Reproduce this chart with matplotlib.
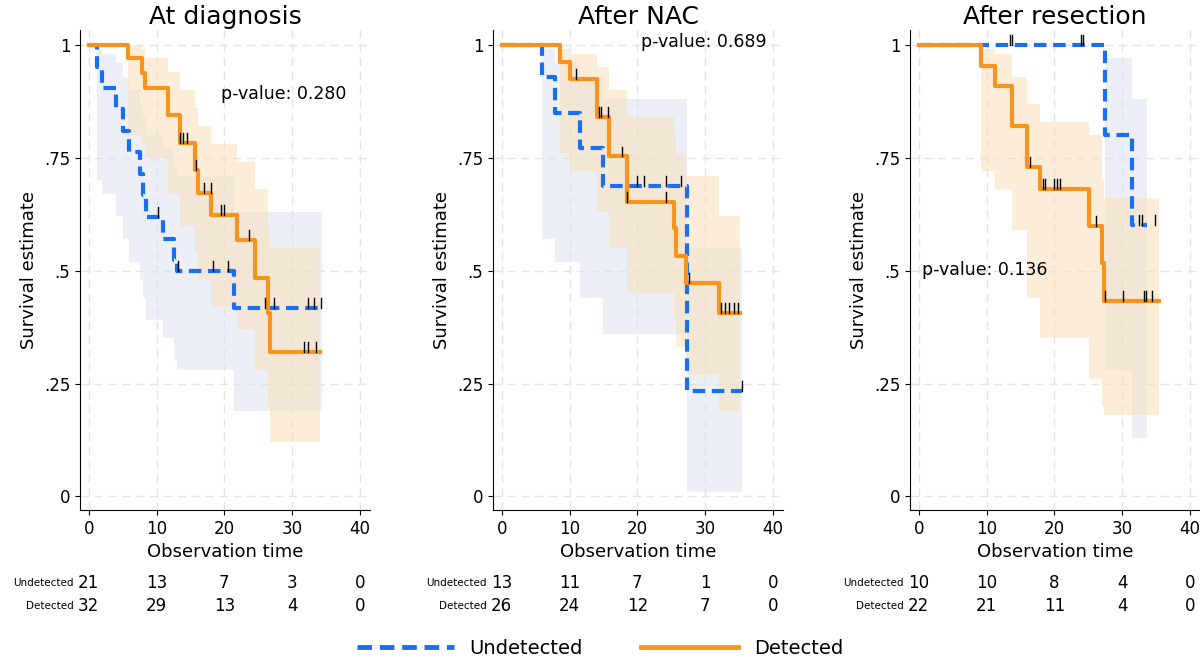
import numpy as np
import matplotlib.pyplot as plt

BLUE = '#1a6ff0'
ORANGE = '#f7941d'

# ---- At diagnosis
d_u_t = [0, 1.2, 2, 4, 5, 6, 7.5, 8, 8.5, 11, 12.5, 13, 21.5]
d_u_s = [1, .95, .905, .857, .81, .762, .714, .667, .619, .571, .524, .5, .417]
d_u_lo = [1, .70, .67, .62, .57, .52, .48, .44, .39, .35, .30, .28, .19]
d_u_hi = [1, .99, .98, .96, .93, .90, .87, .84, .80, .77, .73, .71, .63]
d_u_end = 34.4
d_u_cens = [10.2, 13.1, 18.3, 20.5, 26.0, 27.4, 32.3, 33.3, 34.3]

d_d_t = [0, 5.8, 7.8, 8.3, 11.7, 13.4, 15.6, 16.1, 18.1, 21.8, 24.5, 26.5, 26.8]
d_d_s = [1, .971, .937, .904, .845, .783, .723, .672, .624, .569, .484, .407, .321]
d_d_lo = [1, .80, .78, .75, .67, .60, .54, .48, .42, .37, .28, .20, .12]
d_d_hi = [1, 1, .99, .97, .94, .90, .86, .82, .78, .74, .68, .60, .55]
d_d_end = 34.1
d_d_cens = [13.4, 13.9, 14.5, 15.8, 17.0, 18.0, 19.5, 20.0, 23.7, 31.8, 32.3, 33.6]

# ---- After NAC
n_u_t = [0, 5.9, 7.9, 11.6, 15.0, 27.4]
n_u_s = [1, .93, .849, .772, .687, .233]
n_u_lo = [1, .57, .52, .44, .36, .01]
n_u_hi = [1, .99, .96, .93, .88, .55]
n_u_end = 35.4
n_u_cens = [20.0, 21.0, 24.2, 26.4, 35.4]

n_d_t = [0, 8.6, 10.1, 14.1, 15.8, 18.5, 25.4, 25.7, 27.2, 32.1]
n_d_s = [1, .963, .925, .841, .753, .653, .595, .532, .473, .407]
n_d_lo = [1, .76, .72, .63, .55, .45, .40, .33, .27, .19]
n_d_hi = [1, .99, .98, .95, .90, .84, .80, .76, .71, .62]
n_d_end = 35.1
n_d_cens = [10.9, 14.3, 14.6, 15.6, 17.8, 18.5, 24.3, 27.7, 32.3, 33.0, 33.6, 34.2, 34.8]

# ---- After resection
r_u_t = [0, 27.5, 31.5]
r_u_s = [1, .80, .601]
r_u_lo = [1, .28, .13]
r_u_hi = [1, .97, .88]
r_u_end = 33.7
r_u_cens = [13.5, 13.8, 24.0, 24.2, 32.5, 33.0, 34.8]

r_d_t = [0, 9.2, 11.2, 13.7, 15.9, 17.9, 25.1, 27.0, 27.3]
r_d_s = [1, .954, .909, .82, .73, .68, .60, .516, .432]
r_d_lo = [1, .72, .68, .59, .44, .35, .26, .20, .18]
r_d_hi = [1, .99, .98, .93, .87, .83, .80, .70, .66]
r_d_end = 35.5
r_d_cens = [16.4, 18.3, 18.6, 19.9, 20.4, 20.8, 26.1, 27.5, 30.1, 33.2, 33.5, 34.4]

titles = ['At diagnosis', 'After NAC', 'After resection']
pvals = ['p-value: 0.280', 'p-value: 0.689', 'p-value: 0.136']
pval_pos = [(19.5, .88), (20.5, .995), (0.5, .49)]
risk_times = [0, 10, 20, 30, 40]
risk_undet = [[21, 13, 7, 3, 0], [13, 11, 7, 1, 0], [10, 10, 8, 4, 0]]
risk_det = [[32, 29, 13, 4, 0], [26, 24, 12, 7, 0], [22, 21, 11, 4, 0]]

panels = [
    [(d_u_t, d_u_s, d_u_lo, d_u_hi, d_u_end, d_u_cens), (d_d_t, d_d_s, d_d_lo, d_d_hi, d_d_end, d_d_cens)],
    [(n_u_t, n_u_s, n_u_lo, n_u_hi, n_u_end, n_u_cens), (n_d_t, n_d_s, n_d_lo, n_d_hi, n_d_end, n_d_cens)],
    [(r_u_t, r_u_s, r_u_lo, r_u_hi, r_u_end, r_u_cens), (r_d_t, r_d_s, r_d_lo, r_d_hi, r_d_end, r_d_cens)],
]


def surv_at(t, s, x):
    i = np.searchsorted(t, x, side='right') - 1
    return s[i]


fig = plt.figure(figsize=(12, 6.62), dpi=100)
lefts = [80, 493, 910]
axw = 290
for k in range(3):
    ax = fig.add_axes([lefts[k] / 1200, 1 - 510 / 662, axw / 1200, 480 / 662])
    for (t, s, lo, hi, end, cens), fc in zip(panels[k], ['#dfe3f2', '#f9dfb8']):
        tt = list(t) + [end]
        ax.fill_between(tt, list(lo) + [lo[-1]], list(hi) + [hi[-1]], step='post',
                        color=fc, alpha=0.55, lw=0)
    for (t, s, lo, hi, end, cens), col, ls in zip(panels[k], [BLUE, ORANGE], [(0, (3, 1.6)), '-']):
        tt = list(t) + [end]
        ax.step(tt, list(s) + [s[-1]], where='post', color=col, lw=3, linestyle=ls, zorder=3)
        for c in cens:
            y = surv_at(t, s, c)
            ax.plot([c, c], [y, y + 0.022], color='black', lw=1, zorder=4)
    ax.set_xlim(-1.3, 41.5)
    ax.set_ylim(-0.03, 1.033)
    ax.set_xticks([0, 10, 20, 30, 40])
    ax.set_yticks([0, .25, .5, .75, 1])
    ax.set_yticklabels(['0', '.25', '.5', '.75', '1'])
    ax.grid(True, color='#e4e4e4', linestyle=(0, (6, 4)), lw=1)
    ax.set_axisbelow(True)
    for sp in ['top', 'right']:
        ax.spines[sp].set_visible(False)
    ax.tick_params(labelsize=12)
    ax.set_title(titles[k], fontsize=18, pad=4)
    ax.set_xlabel('Observation time', fontsize=13)
    ax.set_ylabel('Survival estimate', fontsize=13)
    ax.text(*pval_pos[k], pvals[k], fontsize=12.5)
    for r, (lab, vals) in enumerate([('Undetected', risk_undet[k]), ('Detected', risk_det[k])]):
        yy = -0.152 - r * 0.048
        for x, v in zip(risk_times, vals):
            ax.text(x, yy, str(v), transform=ax.get_xaxis_transform(), ha='center',
                    va='center', fontsize=12, clip_on=False)
        ax.text(-2.2, yy, lab, transform=ax.get_xaxis_transform(), ha='right',
                va='center', fontsize=7.5, clip_on=False)

h1, = fig.axes[0].plot([], [], color=BLUE, lw=3.5, linestyle=(0, (3, 1.6)))
h2, = fig.axes[0].plot([], [], color=ORANGE, lw=3.5)
fig.legend([h1, h2], ['Undetected', 'Detected'], loc='center', bbox_to_anchor=(0.5, 1 - 648 / 662),
           ncol=2, frameon=False, fontsize=14, handlelength=5, columnspacing=3,
           borderpad=0.1)
fig.savefig('out.png', dpi=100, facecolor='white')
